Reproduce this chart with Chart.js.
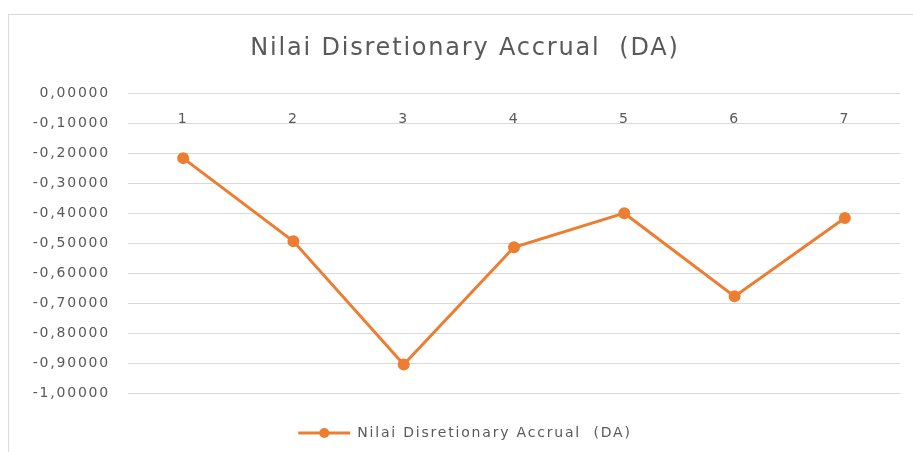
<!DOCTYPE html>
<html>
<head>
<meta charset="utf-8">
<script src="https://cdn.jsdelivr.net/npm/chart.js@4.4.1/dist/chart.umd.min.js"></script>
<style>
  html, body { margin: 0; padding: 0; background: #fff; }
  #wrap { position: relative; width: 913px; height: 452px; overflow: hidden; }
  #frame { position: absolute; left: 8px; top: 14px; right: -2px; bottom: -2px; border: 1px solid #d9d9d9; }
  canvas { position: absolute; left: 0; top: 0; }
</style>
</head>
<body>
<div id="wrap">
  <div id="frame"></div>
  <canvas id="da-chart" width="913" height="452"></canvas>
</div>
<script>
// data
var categories = ['1', '2', '3', '4', '5', '6', '7'];
var daValues = [-0.215, -0.493, -0.905, -0.513, -0.399, -0.677, -0.415];
var seriesName = 'Nilai Disretionary Accrual  (DA)';
var chartTitle = 'Nilai Disretionary Accrual  (DA)';

var orange = '#ED7D31';
var fontFam = '"DejaVu Sans", "Noto Sans", sans-serif';

// the reference text is drawn wide, so space the letters a bit
var wideText = {
    id: 'wideText',
    beforeLayout: function (chart) { chart.ctx.letterSpacing = '1.8px'; },
    beforeDraw: function (chart) { chart.ctx.letterSpacing = '1.8px'; }
};

// round marker on top of the legend line
var legendMarker = {
    id: 'legendMarker',
    afterDraw: function (chart) {
        var lg = chart.legend;
        if (!lg || !lg.legendHitBoxes) return;
        var ctx = chart.ctx;
        lg.legendHitBoxes.forEach(function (box) {
            ctx.save();
            ctx.fillStyle = orange;
            ctx.beginPath();
            ctx.arc(box.left + 26, box.top + box.height / 2, 5, 0, Math.PI * 2);
            ctx.fill();
            ctx.restore();
        });
    }
};

var ctx = document.getElementById('da-chart').getContext('2d');
var daChart = new Chart(ctx, {
    type: 'line',
    data: {
        labels: categories,
        datasets: [{
            label: seriesName,
            data: daValues,
            borderColor: orange,
            backgroundColor: orange,
            borderWidth: 3,
            pointRadius: 4.5,
            pointBackgroundColor: orange,
            pointBorderColor: orange,
            tension: 0
        }]
    },
    options: {
        responsive: false,
        animation: false,
        layout: {
            padding: { top: 34, right: 13, bottom: 2, left: 30 }
        },
        scales: {
            x: {
                position: { y: 0 },
                offset: true,
                grid: { display: false, drawTicks: false },
                border: { display: false },
                ticks: {
                    color: '#595959',
                    padding: 17,
                    font: { family: fontFam, size: 14 }
                }
            },
            y: {
                min: -1,
                max: 0,
                grid: { color: '#d9d9d9', drawTicks: false, lineWidth: 1 },
                border: { display: false },
                ticks: {
                    stepSize: 0.1,
                    padding: 18,
                    color: '#595959',
                    font: { family: fontFam, size: 14 },
                    callback: function (v) {
                        var s = Math.abs(v).toFixed(5).replace('.', ',');
                        return (v < -0.000001 ? '-' : '') + s;
                    }
                },
                afterFit: function (scale) { scale.width = 98; }
            }
        },
        plugins: {
            title: {
                display: true,
                text: chartTitle,
                color: '#595959',
                font: { family: fontFam, size: 24, weight: 'normal' },
                padding: { top: 0, bottom: 31 }
            },
            legend: {
                position: 'bottom',
                labels: {
                    boxWidth: 52,
                    boxHeight: 3,
                    color: '#595959',
                    font: { family: fontFam, size: 14 },
                    padding: 33,
                    generateLabels: function (chart) {
                        var items = Chart.defaults.plugins.legend.labels.generateLabels(chart);
                        items.forEach(function (it) { it.lineWidth = 0; });
                        return items;
                    }
                }
            },
            tooltip: { enabled: false }
        }
    },
    plugins: [wideText, legendMarker]
});
</script>
</body>
</html>
